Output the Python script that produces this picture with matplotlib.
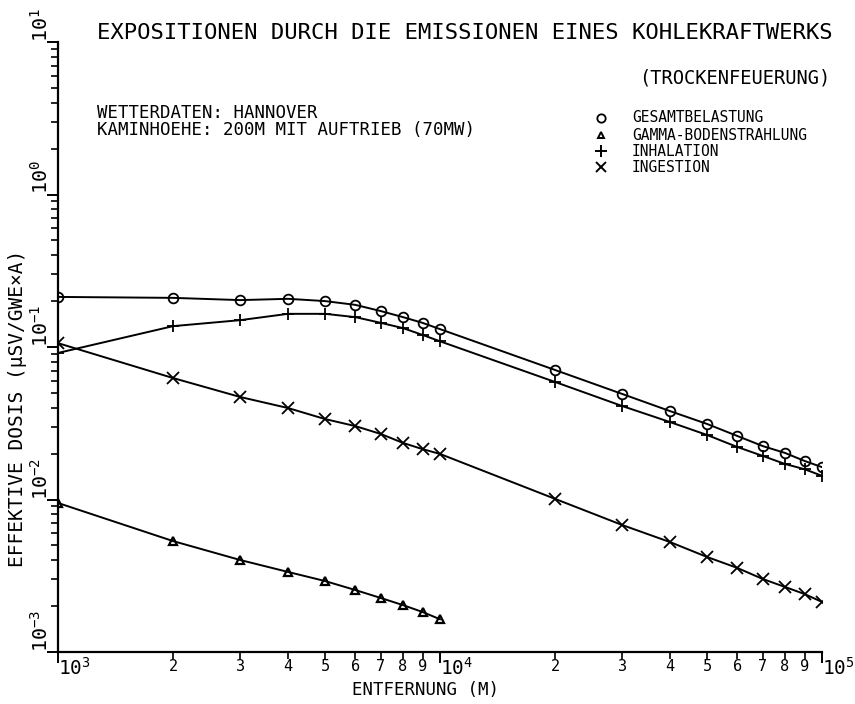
import numpy as np
import matplotlib
matplotlib.use("Agg")
import matplotlib.pyplot as plt
from matplotlib.ticker import FixedLocator, NullFormatter

plt.rcParams['font.family'] = ['DejaVu Sans Mono', 'DejaVu Sans']
plt.rcParams['mathtext.default'] = 'regular'

# distance [m]
entfernung = [1000, 2000, 3000, 4000, 5000, 6000, 7000, 8000, 9000, 10000,
              20000, 30000, 40000, 50000, 60000, 70000, 80000, 90000, 100000]
# effective dose [uSv/GWe*a]
gesamt = [0.213, 0.210, 0.203, 0.207, 0.200, 0.189, 0.172, 0.157, 0.144, 0.131,
          0.0707, 0.0492, 0.0380, 0.0313, 0.0261, 0.0224, 0.0202, 0.0179, 0.0163]
inhalation = [0.0914, 0.137, 0.150, 0.165, 0.165, 0.157, 0.144, 0.133, 0.120, 0.109,
              0.0590, 0.0410, 0.0322, 0.0265, 0.0221, 0.0193, 0.0171, 0.0158, 0.0143]
ingestion = [0.106, 0.0626, 0.0470, 0.0398, 0.0337, 0.0303, 0.0269, 0.0235, 0.0214, 0.0199,
             0.0101, 0.00680, 0.00526, 0.00420, 0.00356, 0.00301, 0.00267, 0.00240, 0.00213]
gamma_x = entfernung[:10]
gamma = [0.00949, 0.00534, 0.00401, 0.00335, 0.00292, 0.00255, 0.00226, 0.00203, 0.00183, 0.00164]

legend_labels = ["GESAMTBELASTUNG", "GAMMA-BODENSTRAHLUNG", "INHALATION", "INGESTION"]

W, H = 855, 704
fig = plt.figure(figsize=(W / 100, H / 100), dpi=100)
ax = fig.add_axes([58 / W, (H - 652) / H, 764 / W, 610 / H])

lw = 1.4
ax.plot(entfernung, gesamt, color='k', lw=lw, marker='o', ms=7, mfc='none', mew=1.3)
ax.plot(gamma_x, gamma, color='k', lw=lw, marker='^', ms=6, mfc='none', mew=1.6)
ax.plot(entfernung, inhalation, color='k', lw=lw, marker='+', ms=9, mew=1.3)
ax.plot(entfernung, ingestion, color='k', lw=lw, marker='x', ms=8, mew=1.3)

ax.set_xscale('log')
ax.set_yscale('log')
ax.set_xlim(1e3, 1e5)
ax.set_ylim(1e-3, 1e1)

for s in ['top', 'right']:
    ax.spines[s].set_visible(False)
for s in ['left', 'bottom']:
    ax.spines[s].set_linewidth(1.6)

ax.xaxis.set_major_locator(FixedLocator([1e3, 1e4, 1e5]))
ax.xaxis.set_minor_locator(FixedLocator([m * 10 ** e for e in (3, 4) for m in range(2, 10)]))
ax.yaxis.set_major_locator(FixedLocator([1e-3, 1e-2, 1e-1, 1e0, 1e1]))
ax.yaxis.set_minor_locator(FixedLocator([m * 10.0 ** e for e in (-3, -2, -1, 0) for m in range(2, 10)]))
for a in (ax.xaxis, ax.yaxis):
    a.set_major_formatter(NullFormatter())
    a.set_minor_formatter(NullFormatter())
ax.tick_params(which='major', length=8, width=1.4, direction='out')
ax.tick_params(which='minor', length=5, width=1.2, direction='out')

# x tick labels
xt = ax.get_xaxis_transform()
for e in (3, 4, 5):
    ax.text(10 ** e, -0.026, r'$10^{%d}$' % e, transform=xt, ha='left', va='center', fontsize=14)
for e in (3, 4):
    for m in range(2, 10):
        ax.text(m * 10 ** e, -0.024, str(m), transform=xt, ha='center', va='center', fontsize=11)

# y tick labels
yt = ax.get_yaxis_transform()
for e in (-3, -2, -1, 0, 1):
    ax.text(-0.022, 10.0 ** e, r'$10^{%d}$' % e, transform=yt, ha='center', va='bottom',
            rotation=90, fontsize=14.5)

fig.text(352 / W, 1 - 690 / H, "ENTFERNUNG (M)", ha='left', va='center', fontsize=12.5)
fig.text(18 / W, 1 - 408 / H, "EFFEKTIVE DOSIS (\u00b5SV/GWE\u00d7A)", ha='center', va='center',
         rotation=90, fontsize=14)

fig.text(97 / W, 1 - 33 / H, "EXPOSITIONEN DURCH DIE EMISSIONEN EINES KOHLEKRAFTWERKS",
         ha='left', va='center', fontsize=16)
fig.text(830 / W, 1 - 78 / H, "(TROCKENFEUERUNG)", ha='right', va='center', fontsize=13.5)
fig.text(97 / W, 1 - 113 / H, "WETTERDATEN: HANNOVER", ha='left', va='center', fontsize=12.5)
fig.text(97 / W, 1 - 130 / H, "KAMINHOEHE: 200M MIT AUFTRIEB (70MW)", ha='left', va='center',
         fontsize=12.5)

# legend
leg_marks = [dict(marker='o', mfc='none', ms=6, mew=1.3),
             dict(marker='^', mfc='none', ms=5, mew=1.4),
             dict(marker='+', ms=8, mew=1.4),
             dict(marker='x', ms=7, mew=1.4)]
leg_y = [118, 135, 151, 167]
for lab, mk, py in zip(legend_labels, leg_marks, leg_y):
    ax.plot([(601 - 58) / 764], [(652 - py) / 610], transform=ax.transAxes, color='k',
            clip_on=False, ls='none', **mk)
    fig.text(632 / W, 1 - py / H, lab, ha='left', va='center', fontsize=10.5)

fig.savefig("out.png", dpi=100)
